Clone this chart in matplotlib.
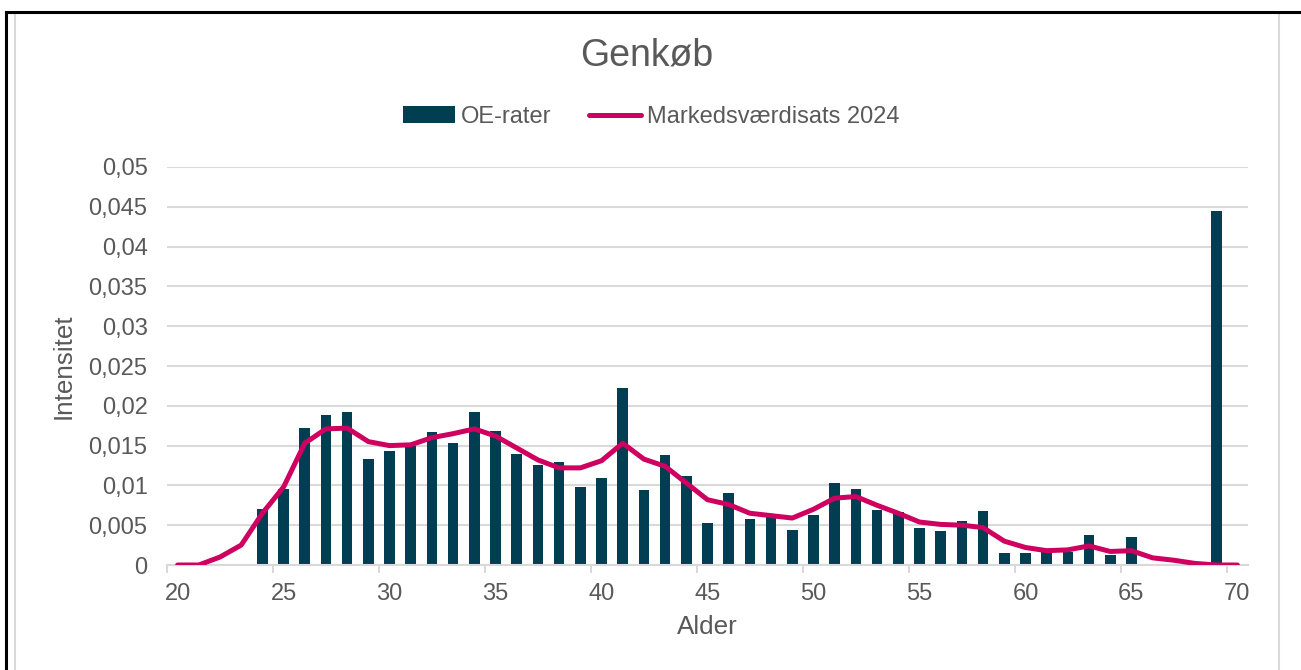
import numpy as np
import matplotlib
matplotlib.use("Agg")
import matplotlib.pyplot as plt
from matplotlib.lines import Line2D

plt.rcParams['font.family'] = ['Liberation Sans', 'DejaVu Sans']

ages = list(range(20, 71))
oe_rater = [0, 0, 0, 0, 0.0070, 0.0096, 0.0172, 0.0188, 0.0192, 0.0133,
            0.0143, 0.0150, 0.0167, 0.0153, 0.0192, 0.0168, 0.0139, 0.0126, 0.0130, 0.0098,
            0.0109, 0.0222, 0.0094, 0.0138, 0.0112, 0.0053, 0.0090, 0.0058, 0.0061, 0.0044,
            0.0063, 0.0103, 0.0095, 0.0069, 0.0067, 0.0046, 0.0043, 0.0055, 0.0068, 0.0015,
            0.0015, 0.0016, 0.0016, 0.0038, 0.0012, 0.0035, 0, 0, 0, 0.0445, 0]
markedsvaerdi = [0, 0, 0.0010, 0.0025, 0.0065, 0.0098, 0.0153, 0.0171, 0.0172, 0.0155,
                 0.0150, 0.0151, 0.0160, 0.0165, 0.0171, 0.0162, 0.0147, 0.0132, 0.0122, 0.0122,
                 0.0131, 0.0153, 0.0133, 0.0124, 0.0103, 0.0082, 0.0076, 0.0065, 0.0062, 0.0059,
                 0.0070, 0.0084, 0.0086, 0.0075, 0.0065, 0.0054, 0.0051, 0.0050, 0.0047, 0.0030,
                 0.0022, 0.0018, 0.0019, 0.0024, 0.0017, 0.0018, 0.0009, 0.0006, 0.0002, 0, 0]
y_ticks = [0, 0.005, 0.01, 0.015, 0.02, 0.025, 0.03, 0.035, 0.04, 0.045, 0.05]
y_labels = ["0", "0,005", "0,01", "0,015", "0,02", "0,025", "0,03", "0,035", "0,04", "0,045", "0,05"]
x_labels = [20, 25, 30, 35, 40, 45, 50, 55, 60, 65, 70]

bar_col = '#023E52'
line_col = '#CE0060'
txt_col = '#595959'
grid_col = '#D9D9D9'

W, H = 1301, 670
fig = plt.figure(figsize=(W / 100, H / 100), dpi=100)
ax = fig.add_axes([167 / W, 1 - 565 / H, (1248 - 167) / W, (565 - 167) / H])

bars = ax.bar(ages, oe_rater, width=0.5, color=bar_col, label='OE-rater', zorder=2)
line, = ax.plot(ages, markedsvaerdi, color=line_col, lw=3.6, solid_capstyle='round',
                solid_joinstyle='round', label='Markedsværdisats 2024', zorder=3)

ax.set_xlim(19.5, 70.5)
ax.set_ylim(0, 0.05)
ax.set_yticks(y_ticks)
ax.set_yticklabels(y_labels)
ax.yaxis.grid(True, color=grid_col, lw=1.5, zorder=0)
ax.tick_params(axis='y', length=0, pad=14, labelsize=17, labelcolor=txt_col)

# tick marks between categories, labels on category centres
ax.set_xticks([x - 0.5 for x in x_labels])
ax.set_xticklabels([])
ax.set_xticks(x_labels, minor=True)
ax.set_xticklabels([str(x) for x in x_labels], minor=True)
ax.tick_params(axis='x', which='major', length=6, width=1.5, color=grid_col)
ax.tick_params(axis='x', which='minor', length=0, pad=13, labelsize=17, labelcolor=txt_col)

for s in ['top', 'right', 'left']:
    ax.spines[s].set_visible(False)
ax.spines['bottom'].set_color(grid_col)
ax.spines['bottom'].set_linewidth(1.5)
ax.set_axisbelow(True)

ax.set_xlabel('Alder', fontsize=18.7, color=txt_col, labelpad=7)
ax.set_ylabel('Intensitet', fontsize=18.7, color=txt_col, labelpad=9)

fig.text(647 / W, 1 - 56 / H, 'Genkøb', fontsize=27, color=txt_col, ha='center', va='center')

fig.legend(handles=[bars, line], loc='center', bbox_to_anchor=(651 / W, 1 - 117 / H), ncol=2,
           frameon=False, fontsize=17, handlelength=2.2, handletextpad=0.25, columnspacing=1.6,
           labelcolor=txt_col)

# chart frame
fig.add_artist(Line2D([14.5 / W, 14.5 / W], [0, 1 - 13 / H], color=grid_col, lw=1.5))
fig.add_artist(Line2D([1279 / W, 1279 / W], [0, 1 - 13 / H], color=grid_col, lw=1.5))
fig.add_artist(Line2D([5.5 / W, 1], [1 - 11.5 / H, 1 - 11.5 / H], color='black', lw=2.2))
fig.add_artist(Line2D([5.5 / W, 5.5 / W], [0, 1 - 11.5 / H], color='black', lw=2.2))

fig.savefig('out.png', dpi=100)
